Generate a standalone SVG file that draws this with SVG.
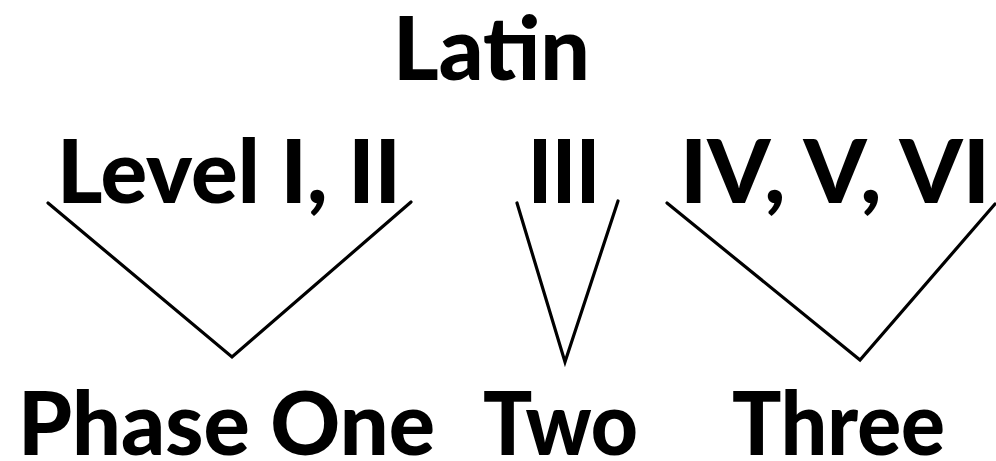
<svg xmlns="http://www.w3.org/2000/svg" width="996" height="461" viewBox="0 0 996 461">
  <style>
    .t { font-family: "Lato", "DejaVu Sans", sans-serif; font-weight: 900; font-size: 88px; fill: #000; }
    .c { fill: none; stroke: #000; stroke-width: 3.2; stroke-linejoin: miter; stroke-linecap: round; }
  </style>
  <rect width="996" height="461" fill="#fff"/>
  <g id="latin"><text class="t" x="393" y="80" textLength="197" lengthAdjust="spacingAndGlyphs">Latin</text></g>
  <g id="level-i-ii"><text class="t" x="57" y="203" textLength="344" lengthAdjust="spacingAndGlyphs">Level I, II</text></g>
  <g id="level-iii"><text class="t" x="528" y="203" textLength="72" lengthAdjust="spacingAndGlyphs">III</text></g>
  <g id="level-iv-vi"><text class="t" x="680" y="203" textLength="310" lengthAdjust="spacingAndGlyphs">IV, V, VI</text></g>
  <g id="phase-one"><text class="t" x="18" y="455" textLength="417" lengthAdjust="spacingAndGlyphs">Phase One</text></g>
  <g id="phase-two"><text class="t" x="483" y="455" textLength="155" lengthAdjust="spacingAndGlyphs">Two</text></g>
  <g id="phase-three"><text class="t" x="732" y="455" textLength="213" lengthAdjust="spacingAndGlyphs">Three</text></g>
  <g id="connectors">
    <polyline class="c" points="48,203 232,357 411,202"/>
    <polyline class="c" points="517,203 565,362 618,201"/>
    <polyline class="c" points="667,203 860,360 995,204"/>
  </g>
</svg>
